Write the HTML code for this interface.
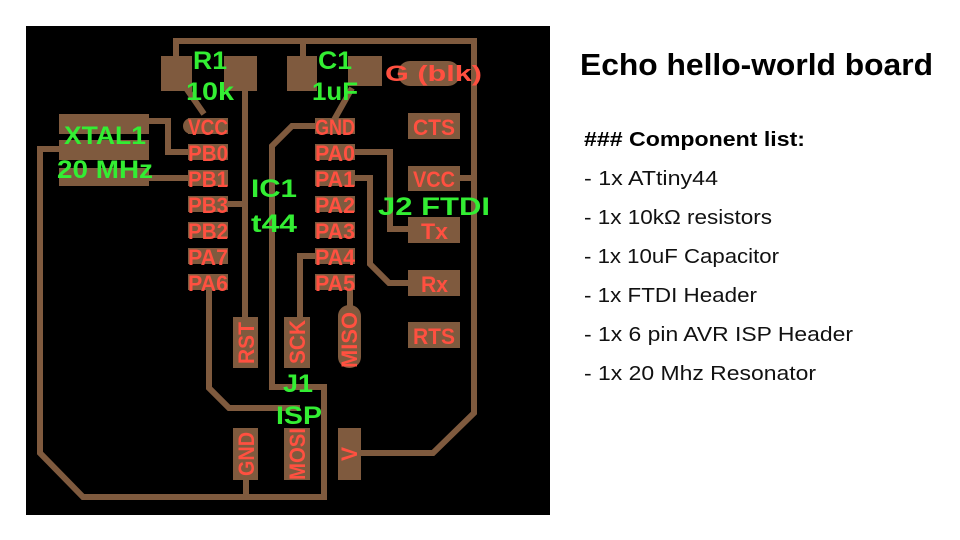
<!DOCTYPE html>
<html><head><meta charset="utf-8"><style>
html,body{margin:0;padding:0;background:#fff;width:960px;height:540px;overflow:hidden}
</style></head><body>
<svg width="960" height="540" xmlns="http://www.w3.org/2000/svg">
<rect x="0" y="0" width="960" height="540" fill="#fff"/>
<rect x="26" y="26" width="524" height="489" fill="#000"/>
<g stroke="#7f5a3e" stroke-width="6" fill="none" stroke-linejoin="miter">
  <polyline points="176,58 176,41 477,41 474,41 474,413 433,453 361,453"/>
  <line x1="303" y1="41" x2="303" y2="58"/>
  <line x1="460" y1="178" x2="474" y2="178"/>
  <polyline points="186,88 204,114"/>
  <line x1="245" y1="88" x2="245" y2="320"/>
  <line x1="228" y1="204" x2="245" y2="204"/>
  <polyline points="149,121 168,121 168,152 190,152"/>
  <line x1="149" y1="178" x2="190" y2="178"/>
  <polyline points="315,126 292,126 272,146 272,387 324,387 324,497 83,497 40,453 40,149 62,149"/>
  <line x1="246" y1="478" x2="246" y2="497"/>
  <polyline points="209,282 209,388 229,408 300,408"/>
  <polyline points="315,256 300,256 300,320"/>
  <line x1="350" y1="282" x2="350" y2="310"/>
  <polyline points="352,152 390,152 390,229 410,229"/>
  <polyline points="352,178 370,178 370,264 389,283 410,283"/>
  <line x1="352" y1="88" x2="334" y2="120"/>
</g>
<g fill="#7f5a3e">
  <rect x="161" y="56" width="31" height="35"/>
  <rect x="224" y="56" width="33" height="35"/>
  <rect x="287" y="56" width="30" height="35"/>
  <rect x="348" y="56" width="34" height="30"/>
  <rect x="398" y="61" width="62" height="25" rx="12"/>
  <rect x="59" y="114" width="90" height="20"/>
  <rect x="59" y="140" width="90" height="20"/>
  <rect x="59" y="168" width="90" height="18"/>
  <rect x="183" y="118" width="20" height="16" rx="8"/>
  <rect x="188" y="118" width="40" height="16"/>
  <rect x="188" y="144" width="40" height="16"/>
  <rect x="188" y="170" width="40" height="16"/>
  <rect x="188" y="196" width="40" height="16"/>
  <rect x="188" y="222" width="40" height="16"/>
  <rect x="188" y="248" width="40" height="16"/>
  <rect x="188" y="274" width="40" height="16"/>
  <rect x="315" y="118" width="40" height="16"/>
  <rect x="315" y="144" width="40" height="16"/>
  <rect x="315" y="170" width="40" height="16"/>
  <rect x="315" y="196" width="40" height="16"/>
  <rect x="315" y="222" width="40" height="16"/>
  <rect x="315" y="248" width="40" height="16"/>
  <rect x="315" y="274" width="40" height="16"/>
  <rect x="408" y="113" width="52" height="26"/>
  <rect x="408" y="166" width="52" height="25"/>
  <rect x="408" y="217" width="52" height="26"/>
  <rect x="408" y="270" width="52" height="26"/>
  <rect x="408" y="322" width="52" height="26"/>
  <rect x="233" y="317" width="25" height="51"/>
  <rect x="284" y="317" width="26" height="51"/>
  <rect x="338" y="305" width="23" height="63" rx="11"/>
  <rect x="233" y="428" width="25" height="52"/>
  <rect x="284" y="428" width="26" height="52"/>
  <rect x="338" y="428" width="23" height="52"/>
</g>
<g fill="#ff5040" font-family="Liberation Sans, sans-serif" font-weight="bold" font-size="22" lengthAdjust="spacingAndGlyphs">
  <text x="188" y="135" textLength="40" lengthAdjust="spacingAndGlyphs">VCC</text>
  <text x="188" y="161" textLength="40" lengthAdjust="spacingAndGlyphs">PB0</text>
  <text x="188" y="187" textLength="40" lengthAdjust="spacingAndGlyphs">PB1</text>
  <text x="188" y="213" textLength="40" lengthAdjust="spacingAndGlyphs">PB3</text>
  <text x="188" y="239" textLength="40" lengthAdjust="spacingAndGlyphs">PB2</text>
  <text x="188" y="265" textLength="40" lengthAdjust="spacingAndGlyphs">PA7</text>
  <text x="188" y="291" textLength="40" lengthAdjust="spacingAndGlyphs">PA6</text>
  <text x="315" y="135" textLength="40" lengthAdjust="spacingAndGlyphs">GND</text>
  <text x="315" y="161" textLength="40" lengthAdjust="spacingAndGlyphs">PA0</text>
  <text x="315" y="187" textLength="40" lengthAdjust="spacingAndGlyphs">PA1</text>
  <text x="315" y="213" textLength="40" lengthAdjust="spacingAndGlyphs">PA2</text>
  <text x="315" y="239" textLength="40" lengthAdjust="spacingAndGlyphs">PA3</text>
  <text x="315" y="265" textLength="40" lengthAdjust="spacingAndGlyphs">PA4</text>
  <text x="315" y="291" textLength="40" lengthAdjust="spacingAndGlyphs">PA5</text>
  <text x="385" y="81" textLength="97" lengthAdjust="spacingAndGlyphs">G (blk)</text>
  <text x="413" y="135" textLength="42" lengthAdjust="spacingAndGlyphs">CTS</text>
  <text x="413" y="187" textLength="42" lengthAdjust="spacingAndGlyphs">VCC</text>
  <text x="421" y="239" textLength="27" lengthAdjust="spacingAndGlyphs">Tx</text>
  <text x="421" y="292" textLength="27" lengthAdjust="spacingAndGlyphs">Rx</text>
  <text x="413" y="344" textLength="42" lengthAdjust="spacingAndGlyphs">RTS</text>
  <text transform="translate(254,364) rotate(-90)" textLength="42" lengthAdjust="spacingAndGlyphs">RST</text>
  <text transform="translate(305,364) rotate(-90)" textLength="44" lengthAdjust="spacingAndGlyphs">SCK</text>
  <text transform="translate(357,368) rotate(-90)" textLength="56" lengthAdjust="spacingAndGlyphs">MISO</text>
  <text transform="translate(254,476) rotate(-90)" textLength="44" lengthAdjust="spacingAndGlyphs">GND</text>
  <text transform="translate(305,480) rotate(-90)" textLength="52" lengthAdjust="spacingAndGlyphs">MOSI</text>
  <text transform="translate(357,461) rotate(-90)" textLength="14" lengthAdjust="spacingAndGlyphs">V</text>
</g>
<g fill="#33ee33" font-family="Liberation Sans, sans-serif" font-weight="bold" font-size="25">
  <text x="193" y="69" textLength="34" lengthAdjust="spacingAndGlyphs">R1</text>
  <text x="186" y="100" textLength="48" lengthAdjust="spacingAndGlyphs">10k</text>
  <text x="318" y="69" textLength="34" lengthAdjust="spacingAndGlyphs">C1</text>
  <text x="312" y="100" textLength="46" lengthAdjust="spacingAndGlyphs">1uF</text>
  <text x="64" y="144" textLength="82" lengthAdjust="spacingAndGlyphs">XTAL1</text>
  <text x="57" y="178" textLength="96" lengthAdjust="spacingAndGlyphs">20 MHz</text>
  <text x="251" y="197" textLength="46" lengthAdjust="spacingAndGlyphs">IC1</text>
  <text x="251" y="232" textLength="46" lengthAdjust="spacingAndGlyphs">t44</text>
  <text x="378" y="215" textLength="112" lengthAdjust="spacingAndGlyphs">J2 FTDI</text>
  <text x="283" y="392" textLength="30" lengthAdjust="spacingAndGlyphs">J1</text>
  <text x="276" y="424" textLength="46" lengthAdjust="spacingAndGlyphs">ISP</text>
</g>
<text x="580" y="75" font-family="Liberation Sans, sans-serif" font-weight="bold" font-size="31" fill="#000" textLength="353" lengthAdjust="spacingAndGlyphs">Echo hello-world board</text>
<text x="584" y="146" font-family="Liberation Sans, sans-serif" font-weight="bold" font-size="20" fill="#000" textLength="221" lengthAdjust="spacingAndGlyphs">### Component list:</text>
<g font-family="Liberation Sans, sans-serif" font-size="20" fill="#111">
  <text x="584" y="185" textLength="134" lengthAdjust="spacingAndGlyphs">- 1x ATtiny44</text>
  <text x="584" y="224" textLength="188" lengthAdjust="spacingAndGlyphs">- 1x 10kΩ resistors</text>
  <text x="584" y="263" textLength="195" lengthAdjust="spacingAndGlyphs">- 1x 10uF Capacitor</text>
  <text x="584" y="302" textLength="173" lengthAdjust="spacingAndGlyphs">- 1x FTDI Header</text>
  <text x="584" y="341" textLength="269" lengthAdjust="spacingAndGlyphs">- 1x 6 pin AVR ISP Header</text>
  <text x="584" y="380" textLength="232" lengthAdjust="spacingAndGlyphs">- 1x 20 Mhz Resonator</text>
</g>
</svg>
</body></html>
